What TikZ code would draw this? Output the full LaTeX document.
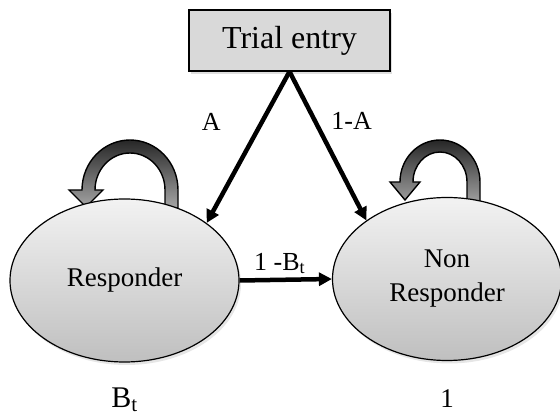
\documentclass[tikz,border=0pt]{standalone}
\usepackage{fontspec}
\setmainfont{Liberation Serif}
\usetikzlibrary{arrows.meta,shapes.geometric,positioning,shadows}
\tikzset{link/.style={-{Triangle[length=13pt,width=13pt]},line width=4.5pt},
		selfloop/.style={draw=black,line width=1.4pt,top color=black!85,bottom color=black!35}}

\begin{document}
\begin{tikzpicture}[x=1pt,y=-1pt,
		entrybox/.style={rectangle,draw=black,line width=1.2pt,fill=black!15,minimum width=201pt,minimum height=61pt,font=\fontsize{32}{36}\selectfont,drop shadow={opacity=0.25,shadow xshift=2pt,shadow yshift=-3pt}},
		state/.style={ellipse,draw=black,line width=1.2pt,top color=black!5,bottom color=black!25,minimum width=229pt,minimum height=163pt,inner sep=0pt,align=center,font=\fontsize{27}{34}\selectfont,drop shadow={opacity=0.2,shadow xshift=2pt,shadow yshift=-3pt}},
		lbl/.style={font=\fontsize{26}{28}\selectfont}]
		\useasboundingbox (0,0) rectangle (560,419);
		
		% self loops, drawn first so that their legs sit behind the states
		\path[selfloop] (178,208) -- (178,190) arc[start angle=0,end angle=-180,x radius=48,y radius=50] -- (69,190) -- (86,207) -- (103,190) -- (95,190) arc[start angle=-180,end angle=0,x radius=35,y radius=37] -- (165,208) -- cycle;
		\path[selfloop] (480,205) -- (480,182) arc[start angle=0,end angle=-180,x radius=40,y radius=42] -- (390,182) -- (405,200) -- (420,182) -- (413,182) arc[start angle=-180,end angle=0,x radius=27,y radius=30] -- (467,205) -- cycle;
		
		\node[entrybox] (entry) at (289.5,40.5) {Trial entry};
		\node[state] (resp) at (124.5,280.5) {Responder};
		\node[state] (nonresp) at (447,279) {Non\\Responder};
		
		\draw[link] (entry.south) -- node[lbl,pos=0.33,left=36pt] {A} (resp.35);
		\draw[link] (entry.south) -- node[lbl,pos=0.33,right=11pt] {1-A} (nonresp.144);
		\draw[link] (resp.east) -- node[lbl,midway,above,xshift=-6pt] {1 -B\textsubscript{t}} (nonresp.west);
		
		\node[lbl,font=\fontsize{30}{32}\selectfont] (resp-label) [below=22pt of resp] {B\textsubscript{t}};
		\node[lbl,font=\fontsize{27}{30}\selectfont] (nonresp-label) [below=25pt of nonresp] {1};
	\end{tikzpicture}
\end{document}
